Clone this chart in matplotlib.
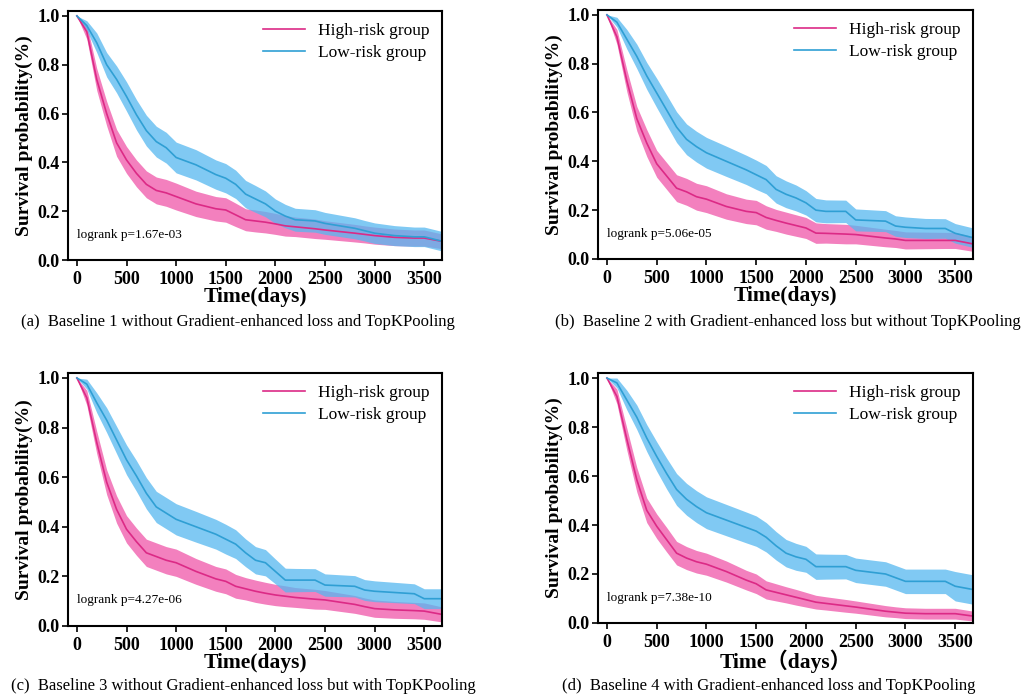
import matplotlib

matplotlib.use("Agg")

import numpy as np
import matplotlib.pyplot as plt

plt.rcParams["font.family"] = ["Liberation Serif", "Noto Sans CJK SC", "DejaVu Sans"]

# time grid (days) shared by all curves
days = [0, 100, 200, 300, 400, 500, 600, 700, 800, 900, 1000, 1200, 1400, 1500, 1600,
        1700, 1800, 1900, 2000, 2100, 2200, 2400, 2500, 2800, 2900, 3000, 3200, 3400,
        3500, 3700]

# survival
high_a = [1.0, 0.935, 0.74, 0.60, 0.48, 0.41, 0.355, 0.31, 0.285, 0.275, 0.26, 0.23, 0.21,
          0.205, 0.185, 0.165, 0.16, 0.155, 0.148, 0.14, 0.136, 0.128, 0.123, 0.11, 0.105,
          0.10, 0.093, 0.09, 0.09, 0.075]
low_a = [1.0, 0.96, 0.89, 0.80, 0.74, 0.67, 0.595, 0.53, 0.485, 0.46, 0.42, 0.39, 0.35,
         0.335, 0.31, 0.27, 0.25, 0.23, 0.20, 0.18, 0.165, 0.16, 0.15, 0.13, 0.12, 0.11,
         0.10, 0.095, 0.095, 0.075]

high_b = [1.0, 0.91, 0.73, 0.575, 0.475, 0.39, 0.34, 0.29, 0.275, 0.255, 0.245, 0.215,
          0.195, 0.19, 0.17, 0.158, 0.147, 0.137, 0.127, 0.106, 0.105, 0.102, 0.10, 0.086,
          0.082, 0.076, 0.076, 0.076, 0.076, 0.06]
low_b = [1.0, 0.97, 0.90, 0.83, 0.75, 0.68, 0.61, 0.54, 0.49, 0.46, 0.435, 0.40, 0.365,
         0.345, 0.325, 0.285, 0.265, 0.25, 0.23, 0.20, 0.195, 0.195, 0.16, 0.155, 0.135,
         0.13, 0.125, 0.125, 0.105, 0.085]

high_c = [1.0, 0.92, 0.74, 0.58, 0.47, 0.39, 0.34, 0.295, 0.28, 0.265, 0.255, 0.22, 0.19,
          0.18, 0.16, 0.15, 0.14, 0.132, 0.125, 0.12, 0.115, 0.108, 0.105, 0.087, 0.078,
          0.07, 0.065, 0.062, 0.06, 0.045]
low_c = [1.0, 0.975, 0.90, 0.83, 0.75, 0.67, 0.605, 0.535, 0.48, 0.455, 0.43, 0.40, 0.37,
         0.35, 0.33, 0.295, 0.265, 0.255, 0.22, 0.185, 0.185, 0.185, 0.165, 0.16, 0.145,
         0.14, 0.135, 0.13, 0.11, 0.11]

high_d = [1.0, 0.925, 0.75, 0.585, 0.46, 0.395, 0.34, 0.285, 0.265, 0.25, 0.24, 0.21,
          0.175, 0.16, 0.135, 0.125, 0.115, 0.105, 0.095, 0.085, 0.08, 0.07, 0.065, 0.048,
          0.044, 0.04, 0.038, 0.038, 0.038, 0.027]
low_d = [1.0, 0.98, 0.91, 0.84, 0.755, 0.68, 0.61, 0.545, 0.505, 0.475, 0.45, 0.42, 0.39,
         0.375, 0.35, 0.315, 0.285, 0.27, 0.26, 0.23, 0.23, 0.23, 0.215, 0.20, 0.185, 0.17,
         0.17, 0.17, 0.15, 0.135]

# half width of the confidence bands
hw_high = [0.0, 0.03, 0.045, 0.05, 0.055, 0.055, 0.055, 0.055, 0.055, 0.055, 0.055, 0.052,
           0.05, 0.05, 0.048, 0.045, 0.045, 0.044, 0.043, 0.042, 0.04, 0.04, 0.038, 0.036,
           0.035, 0.035, 0.034, 0.033, 0.033, 0.03]
hw_low = [0.0, 0.02, 0.04, 0.05, 0.055, 0.06, 0.062, 0.063, 0.063, 0.063, 0.063, 0.062,
          0.06, 0.06, 0.058, 0.056, 0.055, 0.053, 0.05, 0.048, 0.047, 0.046, 0.045, 0.043,
          0.042, 0.042, 0.041, 0.04, 0.04, 0.04]
hw_high_d = [0.0, 0.03, 0.045, 0.05, 0.05, 0.05, 0.05, 0.048, 0.047, 0.046, 0.045, 0.043,
             0.04, 0.04, 0.037, 0.035, 0.033, 0.032, 0.03, 0.028, 0.027, 0.026, 0.025,
             0.023, 0.022, 0.022, 0.022, 0.022, 0.022, 0.02]
hw_low_d = [0.0, 0.02, 0.04, 0.05, 0.055, 0.06, 0.063, 0.065, 0.065, 0.065, 0.065, 0.064,
            0.063, 0.062, 0.06, 0.058, 0.056, 0.055, 0.053, 0.052, 0.051, 0.05, 0.05, 0.05,
            0.05, 0.05, 0.05, 0.05, 0.06, 0.06]

pvalues = ["1.67e-03", "5.06e-05", "4.27e-06", "7.38e-10"]
captions = [
    "(a)  Baseline 1 without Gradient-enhanced loss and TopKPooling",
    "(b)  Baseline 2 with Gradient-enhanced loss but without TopKPooling",
    "(c)  Baseline 3 without Gradient-enhanced loss but with TopKPooling",
    "(d)  Baseline 4 with Gradient-enhanced loss and TopKPooling",
]
xlabels = ["Time(days)", "Time(days)", "Time(days)", "Time\uff08days\uff09"]

panels = [
    (high_a, low_a, hw_high, hw_low),
    (high_b, low_b, hw_high, hw_low),
    (high_c, low_c, hw_high, hw_low),
    (high_d, low_d, hw_high_d, hw_low_d),
]

# axes boxes in figure fractions
boxes = [
    [0.0663, 0.6264, 0.365, 0.3578],
    [0.5834, 0.6279, 0.366, 0.3578],
    [0.0663, 0.1006, 0.365, 0.3635],
    [0.5834, 0.1049, 0.366, 0.3590],
]
caption_pos = [(0.232, 0.531), (0.769, 0.531), (0.237, 0.008), (0.750, 0.008)]

pink_line, pink_fill = "#dc2a86", "#f060ae"
blue_line, blue_fill = "#2f9fd4", "#55b8f0"

fig = plt.figure(figsize=(10.25, 6.96), dpi=100)
t = np.array(days)

for i, (high, low, hwh, hwl) in enumerate(panels):
    ax = fig.add_axes(boxes[i])
    high = np.array(high)
    low = np.array(low)
    ax.fill_between(t, high - np.array(hwh), high + np.array(hwh), color=pink_fill,
                    alpha=0.8, linewidth=0)
    ax.fill_between(t, low - np.array(hwl), low + np.array(hwl), color=blue_fill,
                    alpha=0.75, linewidth=0)
    ax.plot(t, high, color=pink_line, linewidth=1.2, label="High-risk group")
    ax.plot(t, low, color=blue_line, linewidth=1.2, label="Low-risk group")

    ax.set_xlim(-90, 3680)
    ax.set_ylim(0, 1.02)
    ax.set_xticks([0, 500, 1000, 1500, 2000, 2500, 3000, 3500])
    ax.set_yticks([0.0, 0.2, 0.4, 0.6, 0.8, 1.0])
    ax.set_yticklabels(["0.0", "0.2", "0.4", "0.6", "0.8", "1.0"])
    for lab in ax.get_xticklabels() + ax.get_yticklabels():
        lab.set_fontweight("bold")
        lab.set_fontsize(13)
    ax.tick_params(axis="x", direction="out", length=4, width=1.2, pad=4)
    ax.tick_params(axis="y", direction="out", length=4, width=1.2, pad=2)
    for sp in ax.spines.values():
        sp.set_linewidth(1.5)

    ax.set_xlabel(xlabels[i], fontsize=15.5, fontweight="bold", labelpad=-1)
    ax.set_ylabel("Survival probability(%)", fontsize=14, fontweight="bold", labelpad=3)
    ax.text(0.025, 0.09, f"logrank p={pvalues[i]}", transform=ax.transAxes, fontsize=9.5)
    ax.legend(loc="upper right", frameon=False, fontsize=12.5, handlelength=2.4,
              borderaxespad=0.3, labelspacing=0.3)

    fig.text(caption_pos[i][0], caption_pos[i][1], captions[i], fontsize=12,
             ha="center", va="baseline")

fig.savefig("out.png", dpi=100)
